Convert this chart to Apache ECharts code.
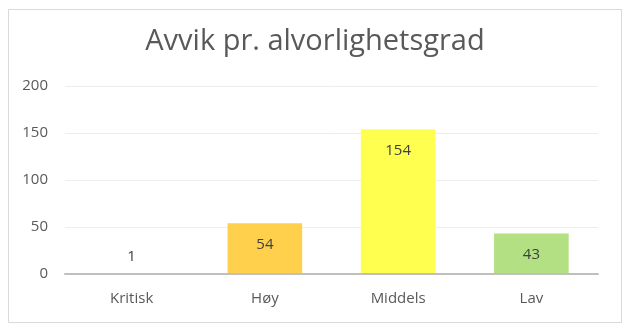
<!DOCTYPE html>
<html><head><meta charset="utf-8">
<script src="https://cdn.jsdelivr.net/npm/echarts@6/dist/echarts.min.js"></script>
<style>html,body{margin:0;padding:0;background:#fff}#c{width:630px;height:329px}</style>
</head><body><div id="c"></div>
<script>
const categories = ["Kritisk", "Høy", "Middels", "Lav"];
const values = [1, 54, 154, 43];
const barColors = ["#C00000", "#FFD04C", "#FFFF4F", "#B3E082"];
const yTicks = [0, 50, 100, 150, 200];

const chart = echarts.init(document.getElementById('c'), null, {renderer: 'canvas'});
const font = 'Open Sans, sans-serif';
chart.setOption({
  animation: false,
  backgroundColor: '#fff',
  graphic: [{
    type: 'rect', left: 6, top: 7, shape: {width: 613, height: 313},
    style: {fill: 'none', stroke: '#D9D9D9', lineWidth: 1}, silent: true
  }],
  title: {
    text: 'Avvik pr. alvorlighetsgrad', left: 'center', top: 22,
    textStyle: {fontFamily: font, fontWeight: 'normal', fontSize: 29, color: '#595959'}
  },
  grid: {left: 65, right: 32, top: 86, bottom: 55},
  xAxis: {
    type: 'category', data: categories, z: 5,
    axisLine: {lineStyle: {color: '#BFBFBF', width: 2}},
    axisTick: {show: false},
    axisLabel: {color: '#595959', fontSize: 15, fontFamily: font, margin: 17}
  },
  yAxis: {
    type: 'value', min: yTicks[0], max: yTicks[yTicks.length - 1], interval: 50,
    axisLine: {show: false}, axisTick: {show: false},
    splitLine: {lineStyle: {color: '#EDEDED', width: 1}},
    axisLabel: {color: '#595959', fontSize: 15, fontFamily: font, margin: 17}
  },
  series: [{
    type: 'bar', barWidth: '56%',
    data: values.map((v, i) => {
      const item = {value: v, itemStyle: {color: barColors[i]}};
      if (v < 10) item.label = {position: 'top', distance: 9};
      return item;
    }),
    label: {
      show: true, position: 'insideTop', distance: 14,
      color: '#404040', fontSize: 15, fontFamily: font
    }
  }]
});
</script></body></html>
